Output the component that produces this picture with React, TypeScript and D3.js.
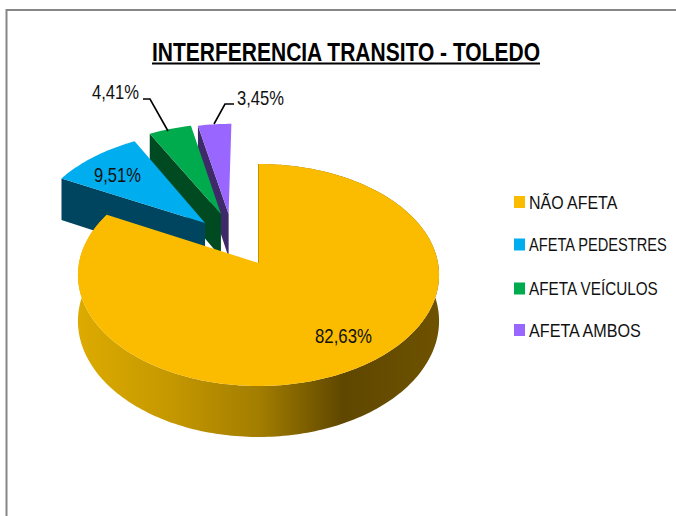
import React from "react";
import * as d3 from "d3";

const categories = ["NÃO AFETA", "AFETA PEDESTRES", "AFETA VEÍCULOS", "AFETA AMBOS"];
const values = [82.63, 9.51, 4.41, 3.45];
const valueLabels = ["82,63%", "9,51%", "4,41%", "3,45%"];
const colors = ["#FBBC00", "#00ADEF", "#00AB4E", "#9966FF"];
const wallColors = ["#8a6a00", "#004560", "#004A22", "#3E2A69"];
const title = "INTERFERENCIA TRANSITO - TOLEDO";

const W = 676, H = 516;
// perspective projection of the pie plane
const apexX = 258.5, apexY = 263, Rx = 179.5, Ry = 109.7, persp = 0.108, depth = 45.5;
// in-plane explosion of each slice
const explode: [number, number][] = [[0, 0], [-0.31, -0.38], [-0.22, -0.47], [-0.175, -0.47]];

const project = (u: number, v: number, z = 0): [number, number] => {
  const s = 1 / (1 - persp * v);
  return [apexX + u * Rx * s, apexY + (v * Ry + z * depth) * s];
};

const pieGen = d3.pie<number>().sort(null).value((d) => d);
const arcs = pieGen(values);
const lineGen = d3.line<[number, number]>();

const rim = (a0: number, a1: number, ex: [number, number], z: number): [number, number][] => {
  const n = Math.max(4, Math.ceil((a1 - a0) / 0.02));
  return d3.range(n + 1).map((i) => {
    const a = a0 + ((a1 - a0) * i) / n;
    return project(ex[0] + Math.sin(a), ex[1] - Math.cos(a), z);
  });
};

const legendRows = [202, 244.5, 288.5, 330];
const labelPos: { x: number; y: number; w: number }[] = [
  { x: 315, y: 343, w: 57 },
  { x: 94, y: 182, w: 47 },
  { x: 92, y: 99, w: 47 },
  { x: 237, y: 105, w: 47 },
];
const leaders: [number, number][][] = [
  [],
  [],
  [[143, 99], [150, 99], [168, 131]],
  [[214, 124], [225, 104], [234, 104]],
];
const legendScales = [0.84, 0.77, 0.805, 0.85];
const font = "'Liberation Sans Narrow', 'Liberation Sans', sans-serif";

export default function App() {
  const order = [3, 2, 1, 0];
  return (
    <svg width={W} height={H} viewBox={`0 0 ${W} ${H}`} style={{ position: "absolute", left: 0, top: 0, display: "block" }}>
      <defs>
        <linearGradient id="wall" gradientUnits="userSpaceOnUse" x1={80} x2={440} y1={0} y2={0}>
          <stop offset="0" stopColor="#DCAA00" />
          <stop offset="0.25" stopColor="#C59800" />
          <stop offset="0.5" stopColor="#A27D00" />
          <stop offset="0.73" stopColor="#5F4700" />
          <stop offset="1" stopColor="#6E5200" />
        </linearGradient>
      </defs>
      <rect width={W} height={H} fill="#fff" />
      <path d={lineGen([[6.5, H], [6.5, 10], [W, 10]]) ?? ""} fill="none" stroke="#868686" strokeWidth={2} />
      <text x={152} y={60.5} fontFamily={font} fontWeight="bold" fontSize={26} textLength={388} lengthAdjust="spacingAndGlyphs" fill="#000">{title}</text>
      <line x1={152} x2={540} y1={63.5} y2={63.5} stroke="#000" strokeWidth={2} />

      {order.map((i) => {
        const d = arcs[i];
        const ex = explode[i];
        const top = rim(d.startAngle, d.endAngle, ex, 0);
        const base = rim(d.startAngle, d.endAngle, ex, 1);
        const apexT = project(ex[0], ex[1], 0);
        const apexB = project(ex[0], ex[1], 1);
        const wallPts: [number, number][] = [top[0], apexT, apexB, base[0]];
        const outer: [number, number][] = [...top, ...[...base].reverse()];
        const topFace: [number, number][] = [apexT, ...top];
        return (
          <g key={categories[i]}>
            {i === 0 && <path d={(lineGen(outer) ?? "") + "Z"} fill="url(#wall)" />}
            <path d={(lineGen(wallPts) ?? "") + "Z"} fill={wallColors[i]} stroke={i === 0 ? wallColors[i] : "none"} strokeWidth={i === 0 ? 1 : 0} />
            <path d={(lineGen(topFace) ?? "") + "Z"} fill={colors[i]} />
          </g>
        );
      })}

      {leaders.map((pts, i) =>
        pts.length ? <path key={i} d={lineGen(pts) ?? ""} fill="none" stroke="#000" strokeWidth={1.6} /> : null
      )}
      {valueLabels.map((t, i) => (
        <text key={t} x={labelPos[i].x} y={labelPos[i].y} fontFamily={font} fontSize={21} textLength={labelPos[i].w} lengthAdjust="spacingAndGlyphs" fill="#111">{t}</text>
      ))}
      {categories.map((c, i) => (
        <g key={c}>
          <rect x={514} y={legendRows[i] - 6} width={11} height={12} fill={colors[i]} />
          <text transform={`translate(529,${legendRows[i] + 6.5}) scale(${legendScales[i]},1)`} fontFamily={font} fontSize={19} fill="#111">{c}</text>
        </g>
      ))}
    </svg>
  );
}
